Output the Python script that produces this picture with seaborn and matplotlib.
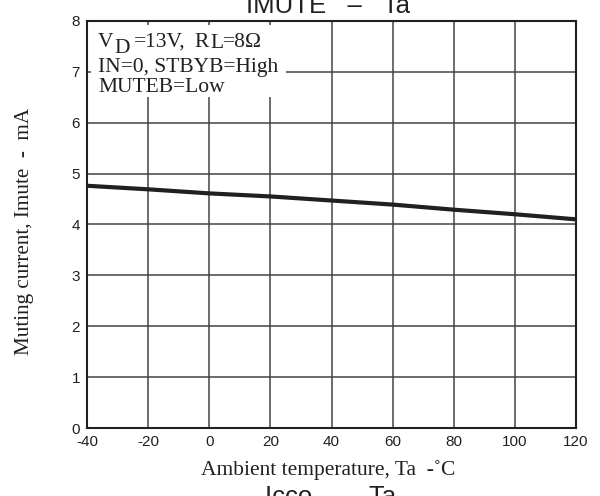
import matplotlib
matplotlib.use("Agg")
import matplotlib.pyplot as plt
from matplotlib.patches import Rectangle
import seaborn as sns
import pandas as pd

temperature = [-40, -20, 0, 20, 40, 60, 80, 100, 120]
imute_ma = [4.76, 4.69, 4.61, 4.55, 4.47, 4.39, 4.29, 4.20, 4.10]
x_ticks = [-40, -20, 0, 20, 40, 60, 80, 100, 120]
y_ticks = [0, 1, 2, 3, 4, 5, 6, 7, 8]

sns.set_theme(style="white")
plt.rcParams["font.family"] = ["Liberation Sans", "DejaVu Sans"]
plt.rcParams["axes.unicode_minus"] = False

df = pd.DataFrame({"Ta": temperature, "Imute": imute_ma})

fig = plt.figure(figsize=(6, 4.96), dpi=100)
ax = fig.add_axes([0.145, 0.137, 0.815, 0.821])

ink = "#231f20"
sns.lineplot(data=df, x="Ta", y="Imute", ax=ax, color=ink, linewidth=3.0, zorder=4)

ax.set_xlim(-40, 120)
ax.set_ylim(0, 8)
ax.set_xticks(x_ticks)
ax.set_yticks(y_ticks)
ax.set_xticklabels([str(v) for v in x_ticks], fontsize=11)
ax.set_yticklabels([str(v) for v in y_ticks], fontsize=11)
ax.tick_params(axis="both", length=0, pad=5, colors=ink)
ax.grid(True, color="#444444", linewidth=1.1, zorder=1)
for s in ax.spines.values():
    s.set_color(ink)
    s.set_linewidth(1.5)
    s.set_visible(True)

serif = ["Liberation Serif", "DejaVu Serif"]
ax.set_xlabel("Ambient temperature, Ta  -˚C", fontsize=15.5, family=serif, color=ink)
ax.xaxis.set_label_coords(0.494, -0.1155)
ax.xaxis.label.set_va("baseline")
ax.set_ylabel("Muting current, Imute  -  mA", fontsize=15.2, family=serif, color=ink)
ax.yaxis.set_label_coords(-0.127, 0.482)
ax.yaxis.label.set_va("center")

# white box behind the conditions text
ax.add_patch(Rectangle((-38.7, 6.51), 63.8, 1.41, facecolor="white", edgecolor="none", zorder=3))

# conditions text; first line built piece by piece (subscripts full size, lowered)
pieces = [("V", 98, 47), ("D", 114.5, 53), ("=13V,", 134, 47), ("R", 194, 47),
          ("L", 210.5, 48.5), ("=8Ω", 223, 47)]
for txt, xp, yp in pieces:
    fig.text(xp / 600, 1 - yp / 496, txt, ha="left", va="baseline",
             fontsize=15.5, family=serif, color=ink, zorder=5)
fig.text(98 / 600, 1 - 72 / 496, "IN=0, STBYB=High", ha="left", va="baseline",
         fontsize=15.5, family=serif, color=ink, zorder=5)
fig.text(98 / 600, 1 - 91.5 / 496, "MUTEB=Low", ha="left", va="baseline",
         fontsize=15.5, family=serif, color=ink, zorder=5)

# neighbouring chart titles, cut at the edges
fig.text(0.546, 1 - 13 / 496, "IMUTE   –   Ta", ha="center", va="baseline", fontsize=18.5, color=ink)
fig.text(0.551, 1 - 485 / 496, "Icco   –   Ta", ha="center", va="top", fontsize=18.5, color=ink)

fig.savefig("out.png", dpi=100, facecolor="white")
